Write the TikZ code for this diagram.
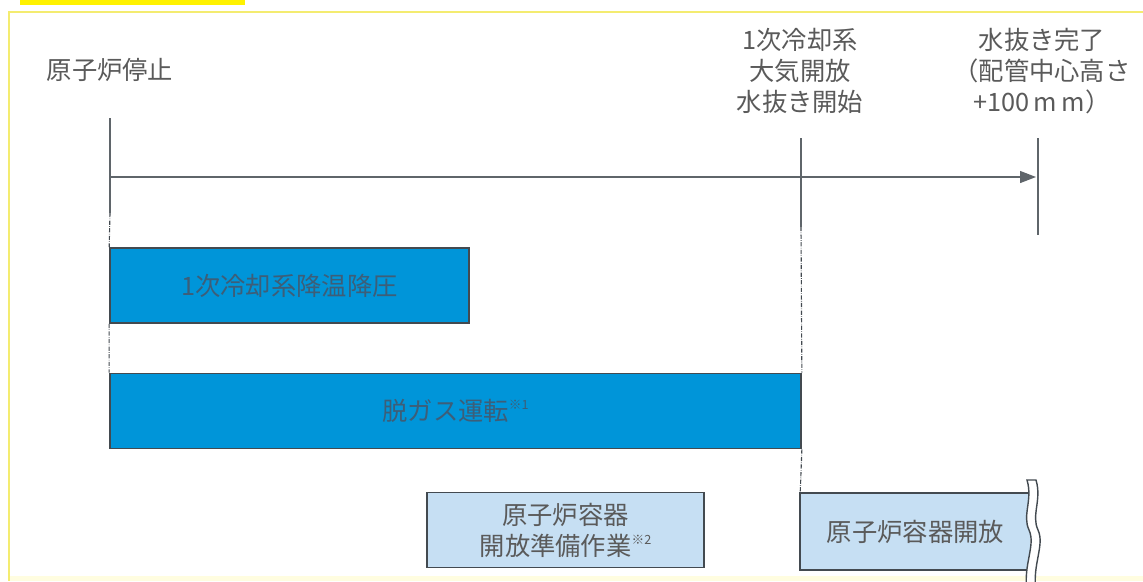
\documentclass[tikz,border=0pt]{standalone}
\usepackage{fontspec}
\newfontfamily\jpfont{Noto Sans CJK JP}
\usetikzlibrary{arrows.meta,positioning}
\definecolor{cblue}{HTML}{0095D9}
\definecolor{clight}{HTML}{C6DFF3}
\definecolor{cedge}{HTML}{434A50}
\definecolor{ctext}{HTML}{5A5A5A}
\definecolor{cdark}{HTML}{3D5E78}
\definecolor{cyel}{HTML}{FFF200}
\definecolor{cframe}{HTML}{F4EC70}
\newcommand{\note}[1]{\raisebox{0.8ex}{\fontsize{9}{9}\selectfont ※#1}}

\begin{document}
\begin{tikzpicture}[x=0.025cm, y=-0.025cm,
  event/.style={font=\jpfont\fontsize{18}{22}\selectfont, text=ctext, align=center, inner sep=0pt},
  task/.style={draw=cedge, line width=1.1pt, minimum height=1.875cm, align=center, font=\jpfont\fontsize{18}{22}\selectfont, inner sep=0pt},
  bar/.style={task, fill=cblue, text=cdark},
  prep/.style={task, fill=clight, text=ctext},
  axis/.style={draw=cedge!85, line width=0.9pt},
  guide/.style={draw=cedge, densely dashdotted, line width=0.8pt},
  arr/.style={axis, -{Triangle[length=4mm, width=3mm]}},
]
  \useasboundingbox (0,0) rectangle (1143,581);
  % frame
  \fill[cyel] (20,0) rectangle (245,5);
  \fill[cyel!12] (9,576) rectangle (1143,581);
  \draw[cframe, line width=1.2pt] (1143,12) -- (9,12) -- (9,581);

  % events
  \node[event] (stop) at (110,70) {原子炉停止};
  \node[event] (vent) at (800,71) {1次冷却系\\大気開放\\水抜き開始};
  \node[event] (done) at (1042,71) {水抜き完了\\（配管中心高さ\\+100\,m\,m）};

  % time axis
  \coordinate (t0) at (110,177);
  \coordinate (t2) at (1036,177);
  \draw[axis] (110,118) -- (110,213);
  \draw[axis] (801,138) -- (801,227);
  \draw[axis] (1038,138) -- (1038,235);
  \draw[arr] (t0) -- (t2);

  % tasks
  \node[bar, minimum width=8.975cm] (cool) at (289.5,285.5) {1次冷却系降温降圧};
  \node[bar, minimum width=17.275cm] (degas) at (455.5,411) {脱ガス運転\note{1}};
  \node[prep, minimum width=6.925cm] (ready) at (565.5,530) {原子炉容器\\開放準備作業\note{2}};
  \node[prep, draw=none, minimum width=5.725cm] (open) at (915.5,531.5) {原子炉容器開放};
  \draw[cedge, line width=1.1pt] (open.north east) -- (open.north west) -- (open.south west) -- (open.south east);

  % break mark
  \filldraw[fill=white, draw=cedge, line width=1pt] (1027,480) .. controls (1033,500) and (1022,515) .. (1029,530) .. controls (1036,545) and (1023,565) .. (1027,590) -- (1036,590) .. controls (1032,565) and (1045,545) .. (1038,530) .. controls (1031,515) and (1042,500) .. (1036,480) -- cycle;

  % guides
  \draw[guide] (110,213) -- (cool.north west);
  \draw[guide] (cool.south west) -- (degas.north west);
  \draw[guide] (801,227) -- (degas.north east);
  \draw[guide] (degas.south east) -- (open.north west);
\end{tikzpicture}
\end{document}
